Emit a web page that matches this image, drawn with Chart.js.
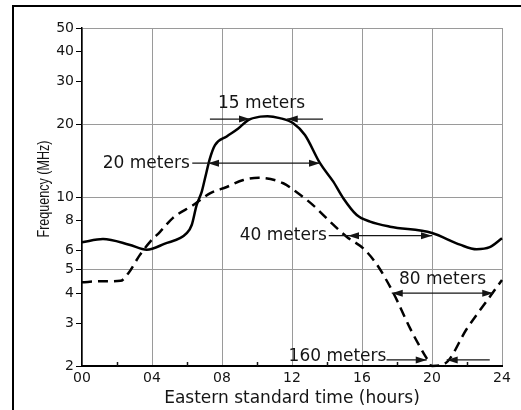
<!DOCTYPE html>
<html>
<head>
<meta charset="utf-8">
<script src="https://cdn.jsdelivr.net/npm/chart.js@4.4.1/dist/chart.umd.min.js"></script>
<style>
  html, body { margin: 0; padding: 0; background: #fff; }
  #wrap { position: relative; width: 521px; height: 410px; overflow: hidden; }
  #frame { position: absolute; left: 12px; top: 5px; width: 530px; height: 420px;
           border-left: 2px solid #000; border-top: 2px solid #000; pointer-events: none; }
</style>
</head>
<body>
<div id="wrap">
  <canvas id="mufChart" width="521" height="410"></canvas>
  <div id="frame"></div>
</div>
<script>
// solid curve (upper) - hours EST vs MHz
const solidHours = [0, 1.2, 2.7, 3.7, 4.7, 6.0, 6.27, 6.55, 6.84, 7.03, 7.31, 7.6, 8.27, 8.93, 9.5, 10.2, 10.6, 11.3, 12.07, 12.74, 13.6, 14.36, 14.93, 15.7, 16.46, 17.6, 20.0, 21.6, 22.55, 23.3, 24];
const solidMHz   = [6.5, 6.7, 6.35, 6.05, 6.4, 7.1, 7.66, 9.26, 10.5, 11.95, 14.45, 16.4, 17.8, 19.2, 20.8, 21.5, 21.6, 21.2, 20.2, 18.05, 13.8, 11.57, 9.88, 8.42, 7.91, 7.54, 7.1, 6.35, 6.08, 6.2, 6.75];

// dashed curve (lower)
const dashedHours = [0, 1.0, 2.2, 2.65, 3.3, 3.9, 4.46, 5.2, 6.36, 7.31, 8.27, 9.22, 10.1, 11.5, 12.27, 13.2, 14.17, 15.12, 16.07, 16.8, 17.8, 18.75, 19.7, 20.0, 20.75, 22.0, 23.1, 24];
const dashedMHz   = [4.44, 4.48, 4.5, 4.84, 5.75, 6.54, 7.18, 8.2, 9.26, 10.35, 11.0, 11.76, 12.0, 11.4, 10.46, 9.26, 7.91, 6.85, 6.13, 5.32, 4.0, 2.86, 2.15, 2.0, 2.05, 2.86, 3.69, 4.54];

const xTickHours  = [0, 4, 8, 12, 16, 20, 24];
const xTickLabels = ['00', '04', '08', '12', '16', '20', '24'];
const xMinorHours = [2, 6, 10, 14, 18, 22];
const yTickValues = [50, 40, 30, 20, 10, 8, 6, 5, 4, 3, 2];
const yGridValues = [50, 20, 10, 5];

// band labels and arrows, in hours / MHz
const bandLabels     = ['15 meters', '20 meters', '40 meters', '80 meters', '160 meters'];
const bandLabelHours = [10.26, 3.67, 11.5, 20.6, 14.6];
const bandLabelMHz   = [24.3, 13.8, 6.92, 4.54, 2.18];
const arrowLines = [[7.31, 9.6, 21], [11.7, 13.77, 21], [6.3, 13.6, 13.8], [14.1, 20.0, 6.92], [17.7, 23.5, 4.0], [17.4, 19.7, 2.12], [20.84, 23.3, 2.12]];
const arrowHeads = [[9.6, 21, 1], [11.7, 21, -1], [7.2, 13.8, -1], [13.6, 13.8, 1], [15.2, 6.92, -1], [20.0, 6.92, 1], [17.7, 4.0, -1], [23.5, 4.0, 1], [19.7, 2.12, 1], [20.84, 2.12, -1]];

const FONT = 'DejaVu Sans';
const INK = '#151515';
const GRID = '#9a9a9a';

const toPoints = (xs, ys) => xs.map((h, i) => ({ x: h, y: ys[i] }));

const overlayPlugin = {
  id: 'overlay',
  afterDraw(chart) {
    const { ctx, chartArea, scales: { x, y } } = chart;
    ctx.save();

    // small inward ticks on the time axis
    ctx.strokeStyle = INK;
    ctx.lineWidth = 1.5;
    xMinorHours.forEach(h => {
      const px = Math.round(x.getPixelForValue(h)) + 0.5;
      ctx.beginPath();
      ctx.moveTo(px, chartArea.bottom);
      ctx.lineTo(px, chartArea.bottom - 4);
      ctx.stroke();
    });

    // arrows
    ctx.lineWidth = 1.3;
    arrowLines.forEach(([h1, h2, f]) => {
      const py = y.getPixelForValue(f);
      ctx.beginPath();
      ctx.moveTo(x.getPixelForValue(h1), py);
      ctx.lineTo(x.getPixelForValue(h2), py);
      ctx.stroke();
    });
    ctx.fillStyle = INK;
    arrowHeads.forEach(([h, f, dir]) => {
      const px = x.getPixelForValue(h), py = y.getPixelForValue(f);
      ctx.beginPath();
      ctx.moveTo(px, py);
      ctx.lineTo(px - dir * 11, py - 3.5);
      ctx.lineTo(px - dir * 11, py + 3.5);
      ctx.closePath();
      ctx.fill();
    });

    // band labels
    ctx.font = `17px "${FONT}"`;
    ctx.textAlign = 'center';
    ctx.textBaseline = 'middle';
    bandLabels.forEach((txt, i) => {
      ctx.fillText(txt, x.getPixelForValue(bandLabelHours[i]), y.getPixelForValue(bandLabelMHz[i]));
    });

    // y axis title, squeezed along its length like the scan
    ctx.font = '17px "Liberation Sans"';
    const title = 'Frequency (MHz)';
    const tw = ctx.measureText(title).width;
    ctx.translate(44, 189);
    ctx.rotate(-Math.PI / 2);
    ctx.scale(97 / tw, 1);
    ctx.fillText(title, 0, 0);

    ctx.restore();
  }
};

new Chart(document.getElementById('mufChart'), {
  type: 'line',
  data: {
    datasets: [
      {
        data: toPoints(solidHours, solidMHz),
        borderColor: '#000',
        borderWidth: 2.5,
        pointRadius: 0,
        cubicInterpolationMode: 'monotone',
        clip: 4
      },
      {
        data: toPoints(dashedHours, dashedMHz),
        borderColor: '#000',
        borderWidth: 2.5,
        borderDash: [10, 6],
        pointRadius: 0,
        cubicInterpolationMode: 'monotone',
        clip: 4
      }
    ]
  },
  options: {
    responsive: false,
    animation: false,
    layout: { padding: { top: 28, right: 19, left: 0, bottom: 0 } },
    plugins: { legend: { display: false }, tooltip: { enabled: false } },
    scales: {
      x: {
        type: 'linear',
        min: 0,
        max: 24,
        afterBuildTicks: s => { s.ticks = xTickHours.map(v => ({ value: v })); },
        afterFit: s => { s.height = 44; },
        grid: { color: GRID, lineWidth: 1, drawTicks: false },
        border: { color: '#000', width: 2 },
        ticks: {
          color: INK,
          padding: 4,
          maxRotation: 0,
          font: { family: FONT, size: 14 },
          callback: v => xTickLabels[xTickHours.indexOf(v)]
        },
        title: {
          display: true,
          text: 'Eastern standard time (hours)',
          color: INK,
          font: { family: FONT, size: 17 },
          padding: { top: 0, bottom: 1 }
        }
      },
      y: {
        type: 'logarithmic',
        min: 2,
        max: 50,
        afterBuildTicks: s => { s.ticks = yTickValues.map(v => ({ value: v })); },
        afterFit: s => { s.width = 82; },
        grid: {
          color: c => yGridValues.includes(c.tick && c.tick.value) ? GRID : 'rgba(0,0,0,0)',
          lineWidth: 1,
          tickColor: '#000',
          tickLength: 6
        },
        border: { color: '#000', width: 1.5 },
        ticks: {
          color: INK,
          padding: 2,
          font: { family: FONT, size: 14 },
          callback: v => String(v)
        }
      }
    }
  },
  plugins: [overlayPlugin]
});
</script>
</body>
</html>
